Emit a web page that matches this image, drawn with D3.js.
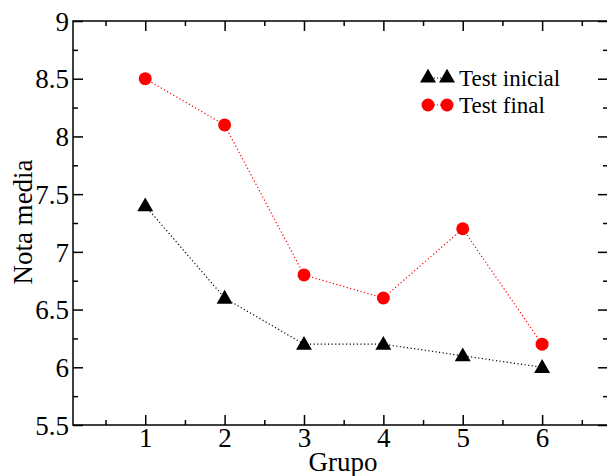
<!DOCTYPE html>
<html><head><meta charset="utf-8">
<script src="https://cdn.jsdelivr.net/npm/d3@7"></script>
<style>body{margin:0;background:#fff}svg{display:block}
svg text{font-family:"Liberation Serif","Times New Roman",Times,"DejaVu Serif",serif !important;}</style>
</head><body>
<script>
const grupos = [1, 2, 3, 4, 5, 6];
const testInicial = [7.4, 6.6, 6.2, 6.2, 6.1, 6.0];
const testFinal = [8.5, 8.1, 6.8, 6.6, 7.2, 6.2];
const yTicks = [5.5, 6, 6.5, 7, 7.5, 8, 8.5, 9];
const yMinor = [5.75, 6.25, 6.75, 7.25, 7.75, 8.25, 8.75];
const xTicks = [1, 2, 3, 4, 5, 6];
const xMinor = [0.5, 1.5, 2.5, 3.5, 4.5, 5.5, 6.5];

const W = 607, H = 476;
const svg = d3.select("body").append("svg").attr("width", W).attr("height", H);

const x = d3.scaleLinear().domain([0.09, 6.83]).range([73, 608]);
const y = d3.scaleLinear().domain([5.5, 9]).range([425, 21]);
const [x0, x1] = x.range();
const [y0, y1] = y.range();

function ax(gen, tr, vals, len, labels) {
  const g = svg.append("g").attr("transform", tr)
    .call(gen.tickValues(vals).tickSize(len).tickSizeOuter(0).tickFormat(labels ? d3.format("") : ""));
  g.select(".domain").remove();
  g.selectAll("line").attr("stroke", "#000").attr("stroke-width", 1.5);
  g.selectAll("text").attr("font-family", null).attr("font-size", 27).attr("fill", "#000");
  g.attr("font-family", null).attr("font-size", null);
  return g;
}
const gb = ax(d3.axisBottom(x), `translate(0,${y0})`, xTicks, -10, true);
gb.selectAll("text").attr("y", 3).attr("dy", "0.71em");
ax(d3.axisBottom(x), `translate(0,${y0})`, xMinor, -5, false);
ax(d3.axisTop(x), `translate(0,${y1})`, xTicks, -10, false);
ax(d3.axisTop(x), `translate(0,${y1})`, xMinor, -5, false);
const gl = ax(d3.axisLeft(y), `translate(${x0},0)`, yTicks, -10, true);
gl.selectAll("text").attr("x", -4).attr("dy", "0.34em");
ax(d3.axisLeft(y), `translate(${x0},0)`, yMinor, -5, false);
ax(d3.axisRight(y), `translate(${x1},0)`, yTicks, -10, false);
ax(d3.axisRight(y), `translate(${x1},0)`, yMinor, -5, false);

svg.append("rect").attr("x", x0).attr("y", y1).attr("width", x1 - x0).attr("height", y0 - y1)
  .attr("fill", "none").attr("stroke", "#000").attr("stroke-width", 1.5);

svg.append("text").attr("x", 343).attr("y", 471).attr("text-anchor", "middle")
  .attr("font-size", 27).text("Grupo");
svg.append("text").attr("transform", "translate(32,222) rotate(-90)").attr("text-anchor", "middle")
  .attr("font-size", 27).text("Nota media");

const line = d3.line().x((d, i) => x(grupos[i])).y(d => y(d));
svg.append("path").datum(testInicial).attr("d", line).attr("fill", "none")
  .attr("stroke", "#000").attr("stroke-width", 1.2).attr("stroke-dasharray", "1.2,2.4");
svg.append("path").datum(testFinal).attr("d", line).attr("fill", "none")
  .attr("stroke", "#f00").attr("stroke-width", 1.2).attr("stroke-dasharray", "1.2,2.4");

const tri = d3.symbol().type(d3.symbolTriangle).size(110);
svg.selectAll(".tri").data(testInicial).enter().append("path")
  .attr("d", tri).attr("transform", (d, i) => `translate(${x(grupos[i])},${y(d) + 1})`).attr("fill", "#000");
svg.selectAll(".cir").data(testFinal).enter().append("circle")
  .attr("cx", (d, i) => x(grupos[i])).attr("cy", d => y(d)).attr("r", 6.5).attr("fill", "#f00");

const lg = svg.append("g");
[428, 447].forEach(px => {
  lg.append("path").attr("d", tri).attr("transform", `translate(${px},78)`).attr("fill", "#000");
  lg.append("circle").attr("cx", px).attr("cy", 105).attr("r", 6.5).attr("fill", "#f00");
});
lg.append("line").attr("x1", 428).attr("x2", 447).attr("y1", 78).attr("y2", 78).attr("stroke", "#000").attr("stroke-dasharray", "1,2");
lg.append("line").attr("x1", 428).attr("x2", 447).attr("y1", 105).attr("y2", 105).attr("stroke", "#f00").attr("stroke-dasharray", "1,2");
lg.append("text").attr("x", 459).attr("y", 86).attr("font-size", 23).text("Test inicial");
lg.append("text").attr("x", 459).attr("y", 113).attr("font-size", 23).text("Test final");
</script>
</body></html>
